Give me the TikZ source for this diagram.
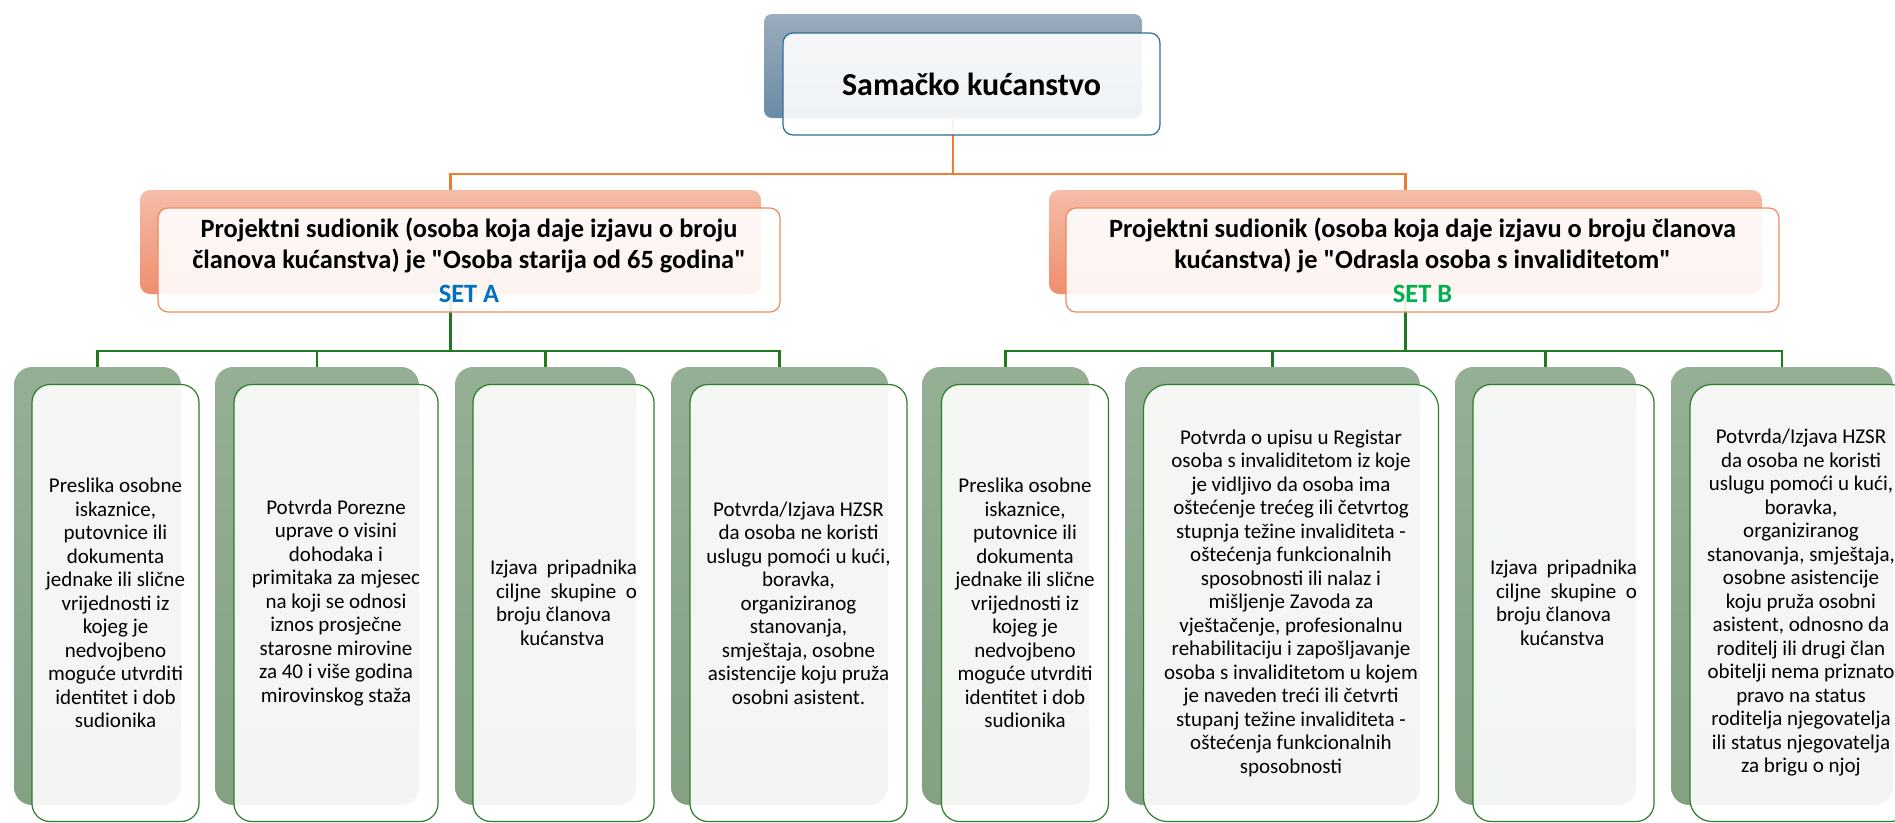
\documentclass[tikz,border=0pt]{standalone}
\usepackage{fontspec}
\setmainfont{Carlito}

\definecolor{rootTop}{HTML}{9BACBC}
\definecolor{rootBot}{HTML}{6B8AA6}
\definecolor{rootLine}{HTML}{2F6E91}
\definecolor{setTop}{HTML}{F5BCA8}
\definecolor{setBot}{HTML}{EE8E6C}
\definecolor{setLine}{HTML}{EE8A5E}
\definecolor{leafTop}{HTML}{95AF95}
\definecolor{leafBot}{HTML}{84A184}
\definecolor{leafLine}{HTML}{2A7F2A}
\definecolor{busOrange}{HTML}{ED7D31}
\definecolor{busGreen}{HTML}{217821}
\definecolor{setAcol}{HTML}{0070C0}
\definecolor{setBcol}{HTML}{00B050}

\begin{document}
\begin{tikzpicture}[
    x=1pt, y=-1pt,
    rootback/.style={rectangle, rounded corners=8pt, top color=rootTop, bottom color=rootBot, minimum width=378pt, minimum height=104pt},
    rootbox/.style={rectangle, draw=rootLine, line width=1.2pt, rounded corners=10pt, fill=white, fill opacity=0.9, text opacity=1, minimum width=377pt, minimum height=102pt, font=\fontsize{32}{38}\selectfont\bfseries},
    setback/.style={rectangle, rounded corners=10pt, top color=setTop, bottom color=setBot, minimum height=104pt},
    setbox/.style={rectangle, draw=setLine, line width=1.2pt, rounded corners=10pt, fill=white, fill opacity=0.9, text opacity=1, minimum height=104pt, align=center, font=\fontsize{26.4}{31}\selectfont\bfseries},
    leafback/.style={rectangle, rounded corners=18pt, top color=leafTop, bottom color=leafBot, minimum height=438pt},
    leafbox/.style={rectangle, draw=leafLine, line width=1.2pt, rounded corners=18pt, fill=white, fill opacity=0.9, text opacity=1, minimum height=437pt, align=center, font=\fontsize{21}{23.5}\selectfont},
    orangeline/.style={draw=busOrange, line width=2.2pt},
    greenline/.style={draw=busGreen, line width=2.5pt}
]
    \useasboundingbox (0,0) rectangle (1895,822);

    % Back plates
    \node[rootback] (rootbg) at (953,66) {};
    \node[setback, minimum width=621pt] (setAbg) at (450.5,242) {};
    \node[setback, minimum width=713pt] (setBbg) at (1405.5,242) {};
    \node[leafback, minimum width=167pt] (a1bg) at (97.5,586) {};
    \node[leafback, minimum width=204pt] (a2bg) at (317,586) {};
    \node[leafback, minimum width=181pt] (a3bg) at (545.5,586) {};
    \node[leafback, minimum width=217pt] (a4bg) at (779.5,586) {};
    \node[leafback, minimum width=167pt] (b1bg) at (1005.5,586) {};
    \node[leafback, minimum width=295pt] (b2bg) at (1272.5,586) {};
    \node[leafback, minimum width=181pt] (b3bg) at (1545.5,586) {};
    \node[leafback, minimum width=222pt] (b4bg) at (1782,586) {};

    % Connectors
    \coordinate (busroot) at (953,174);
    \coordinate (busA) at (450.5,351);
    \coordinate (busB) at (1405.5,351);
    \draw[orangeline] (rootbg.south) -- (rootbg.south |- busroot) -| (setAbg.north);
    \draw[orangeline] (rootbg.south |- busroot) -| (setBbg.north);
    \draw[greenline] (setAbg.south) -- (setAbg.south |- busA) -| (a1bg.north);
    \draw[greenline] (setAbg.south |- busA) -| (a2bg.north);
    \draw[greenline] (setAbg.south |- busA) -| (a3bg.north);
    \draw[greenline] (setAbg.south |- busA) -| (a4bg.north);
    \draw[greenline] (setBbg.south) -- (setBbg.south |- busB) -| (b1bg.north);
    \draw[greenline] (setBbg.south |- busB) -| (b2bg.north);
    \draw[greenline] (setBbg.south |- busB) -| (b3bg.north);
    \draw[greenline] (setBbg.south |- busB) -| (b4bg.north);

    % Front boxes
    \node[rootbox, xshift=18.5pt, yshift=-18pt] (root) at (rootbg) {Samačko kućanstvo};
    \node[setbox, minimum width=622pt, xshift=18.5pt, yshift=-18pt] (setA) at (setAbg)
        {Projektni sudionik (osoba koja daje izjavu o broju\\članova kućanstva) je \textquotedbl Osoba starija od 65 godina\textquotedbl\\[3pt]\textcolor{setAcol}{SET A}};
    \node[setbox, minimum width=713pt, xshift=17pt, yshift=-18pt] (setB) at (setBbg)
        {Projektni sudionik (osoba koja daje izjavu o broju članova\\kućanstva) je \textquotedbl Odrasla osoba s invaliditetom\textquotedbl\\[3pt]\textcolor{setBcol}{SET B}};

    % Set A documents
    \node[leafbox, minimum width=167pt, xshift=18pt, yshift=-17pt] (a1) at (a1bg)
        {Preslika osobne\\iskaznice,\\putovnice ili\\dokumenta\\jednake ili slične\\vrijednosti iz\\kojeg je\\nedvojbeno\\moguće utvrditi\\identitet i dob\\sudionika};
    \node[leafbox, minimum width=204pt, xshift=19pt, yshift=-17pt] (a2) at (a2bg)
        {Potvrda Porezne\\uprave o visini\\dohodaka i\\primitaka za mjesec\\na koji se odnosi\\iznos prosječne\\starosne mirovine\\za 40 i više godina\\mirovinskog staža};
    \node[leafbox, align=left, minimum width=181pt, xshift=18pt, yshift=-17pt] (a3) at (a3bg)
        {\makebox[147pt][s]{Izjava pripadnika}\\\hspace*{6pt}\makebox[141pt][s]{ciljne skupine o}\\\hspace*{6pt}broju članova\\\hspace*{30pt}kućanstva};
    \node[leafbox, minimum width=217pt, xshift=19pt, yshift=-17pt] (a4) at (a4bg)
        {Potvrda/Izjava HZSR\\da osoba ne koristi\\uslugu pomoći u kući,\\boravka,\\organiziranog\\stanovanja,\\smještaja, osobne\\asistencije koju pruža\\osobni asistent.};

    % Set B documents
    \node[leafbox, minimum width=167pt, xshift=19.5pt, yshift=-17pt] (b1) at (b1bg)
        {Preslika osobne\\iskaznice,\\putovnice ili\\dokumenta\\jednake ili slične\\vrijednosti iz\\kojeg je\\nedvojbeno\\moguće utvrditi\\identitet i dob\\sudionika};
    \node[leafbox, rounded corners=24pt, minimum width=295pt, xshift=18.5pt, yshift=-17pt] (b2) at (b2bg)
        {Potvrda o upisu u Registar\\osoba s invaliditetom iz koje\\je vidljivo da osoba ima\\oštećenje trećeg ili četvrtog\\stupnja težine invaliditeta -\\oštećenja funkcionalnih\\sposobnosti ili nalaz i\\mišljenje Zavoda za\\vještačenje, profesionalnu\\rehabilitaciju i zapošljavanje\\osoba s invaliditetom u kojem\\je naveden treći ili četvrti\\stupanj težine invaliditeta -\\oštećenja funkcionalnih\\sposobnosti};
    \node[leafbox, align=left, minimum width=181pt, xshift=18pt, yshift=-17pt] (b3) at (b3bg)
        {\makebox[147pt][s]{Izjava pripadnika}\\\hspace*{6pt}\makebox[141pt][s]{ciljne skupine o}\\\hspace*{6pt}broju članova\\\hspace*{30pt}kućanstva};
    \node[leafbox, rounded corners=22pt, minimum width=222pt, xshift=19pt, yshift=-17pt] (b4) at (b4bg)
        {Potvrda/Izjava HZSR\\da osoba ne koristi\\uslugu pomoći u kući,\\boravka,\\organiziranog\\stanovanja, smještaja,\\osobne asistencije\\koju pruža osobni\\asistent, odnosno da\\roditelj ili drugi član\\obitelji nema priznato\\pravo na status\\roditelja njegovatelja\\ili status njegovatelja\\za brigu o njoj};
\end{tikzpicture}
\end{document}
